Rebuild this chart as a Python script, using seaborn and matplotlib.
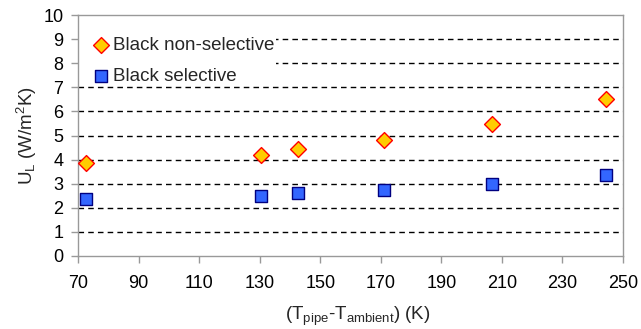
import matplotlib
matplotlib.use("Agg")
import matplotlib.pyplot as plt
import pandas as pd
import seaborn as sns

# values
dT = [72.6, 130.3, 142.6, 171.0, 206.8, 244.5]
u_nonselective = [3.85, 4.2, 4.45, 4.83, 5.5, 6.5]
u_selective = [2.35, 2.5, 2.6, 2.75, 3.0, 3.35]
x_ticks = [70, 90, 110, 130, 150, 170, 190, 210, 230, 250]
y_ticks = list(range(0, 11))

sns.set_theme(style="white")
plt.rcParams["font.family"] = ["Liberation Sans", "DejaVu Sans"]
plt.rcParams["mathtext.fontset"] = "custom"
plt.rcParams["mathtext.rm"] = "Liberation Sans"
plt.rcParams["mathtext.it"] = "Liberation Sans"

df_a = pd.DataFrame({"dT": dT, "U": u_nonselective})
df_b = pd.DataFrame({"dT": dT, "U": u_selective})

fig = plt.figure(figsize=(6.41, 3.29), dpi=100)
ax = fig.add_axes([0.1217, 0.222, 0.8503, 0.732])

for y in y_ticks[1:-1]:
    ax.axhline(y, color="black", linewidth=1, linestyle=(0, (4, 3)), zorder=1)

sns.scatterplot(data=df_a, x="dT", y="U", ax=ax, marker="D", s=65,
                color="#FFCC00", edgecolor="#FF0000", linewidth=1.0,
                label="Black non-selective", zorder=3)
sns.scatterplot(data=df_b, x="dT", y="U", ax=ax, marker="s", s=75,
                color="#3366FF", edgecolor="#000080", linewidth=1.0,
                label="Black selective", zorder=3)

ax.set_xlim(70, 250)
ax.set_ylim(0, 10)
ax.set_xticks(x_ticks)
ax.set_yticks(y_ticks)
ax.tick_params(axis="both", labelsize=13, colors="#999999", labelcolor="black",
               direction="out", length=5, width=1, left=True, bottom=True)
ax.tick_params(axis="y", pad=5.5)
ax.tick_params(axis="x", pad=9)
for sp in ax.spines.values():
    sp.set_color("#999999")
    sp.set_linewidth(1)

ax.set_xlabel(r"(T$_{\mathrm{pipe}}$-T$_{\mathrm{ambient}}$) (K)", fontsize=13.5, labelpad=9)
ax.xaxis.label.set_x(0.513)
ax.set_ylabel(r"U$_{\mathrm{L}}$ (W/m$^{2}$K)", fontsize=13.5, labelpad=3)

leg = ax.legend(loc="upper left", bbox_to_anchor=(0.0, 0.918), fontsize=13.5,
                frameon=True, fancybox=False, framealpha=1, edgecolor="none",
                facecolor="white", handletextpad=-0.49, labelspacing=0.72,
                borderpad=0.1, handlelength=2.25, borderaxespad=0.0)
leg.set_zorder(2)

fig.savefig("out.png", dpi=100)
